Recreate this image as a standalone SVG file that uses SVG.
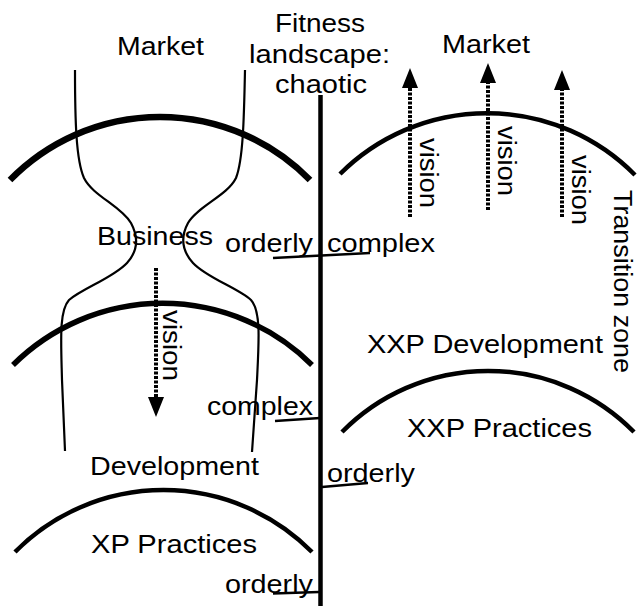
<svg xmlns="http://www.w3.org/2000/svg" width="637" height="607" viewBox="0 0 637 607">
<style>
  text { font-family: "Liberation Sans", Arial, sans-serif; font-size: 25px; fill: #000; }
  .arc { fill: none; stroke: #000; stroke-linecap: butt; }
  .thin { fill: none; stroke: #000; stroke-width: 2.2; }
  .tick { stroke: #000; stroke-width: 2.5; fill: none; }
  .vis { stroke: #000; stroke-width: 4; stroke-dasharray: 3 1.5; fill: none; }
</style>
<defs>
  <marker id="head" markerUnits="userSpaceOnUse" viewBox="0 0 20 16" refX="0" refY="8" markerWidth="20" markerHeight="16" orient="auto">
    <path d="M0,0 L20,8 L0,16 z" fill="#000"/>
  </marker>
</defs>
<rect width="637" height="607" fill="#fff"/>

<g id="axis">
  <line x1="320.5" y1="95" x2="320.5" y2="606" stroke="#000" stroke-width="4.5"/>
  <text x="275" y="32" textLength="90" lengthAdjust="spacingAndGlyphs">Fitness</text>
  <text x="249" y="63" textLength="141" lengthAdjust="spacingAndGlyphs">landscape:</text>
  <text x="275" y="93" textLength="92" lengthAdjust="spacingAndGlyphs">chaotic</text>
</g>

<g id="left-market">
  <path class="arc" stroke-width="6.5" d="M10,180 A210,210 0 0 1 310,180"/>
  <text x="117" y="55" textLength="87" lengthAdjust="spacingAndGlyphs">Market</text>
</g>

<g id="hourglass">
  <path class="thin" d="M75,70 C75,120 76,160 84,178 C93,196 121,206 131,223 C139,238 137,252 127,263 C113,278 83,288 69,300 C59,311 61,340 62,380 L65,451"/>
  <path class="thin" d="M245,70 C244,120 243,160 236,178 C227,196 198,206 188,223 C180,238 183,252 193,263 C207,278 238,288 251,300 C261,311 259,340 257,380 L252,452"/>
</g>

<g id="business">
  <path class="arc" stroke-width="5.5" d="M13,365 A212,212 0 0 1 312,365"/>
  <text x="97" y="245" textLength="116" lengthAdjust="spacingAndGlyphs">Business</text>
</g>

<g id="development">
  <path class="arc" stroke-width="4.5" d="M15,552 A209,209 0 0 1 312,552"/>
  <text x="90" y="475" textLength="169" lengthAdjust="spacingAndGlyphs">Development</text>
</g>

<g id="xp-practices">
  <text x="91" y="553" textLength="166" lengthAdjust="spacingAndGlyphs">XP Practices</text>
</g>

<g id="right-market">
  <path class="arc" stroke-width="4.5" d="M340,174 A208,208 0 0 1 635,175"/>
  <text x="442" y="53" textLength="88" lengthAdjust="spacingAndGlyphs">Market</text>
</g>

<g id="xxp-development">
  <text x="367" y="353" textLength="236" lengthAdjust="spacingAndGlyphs">XXP Development</text>
  <path class="arc" stroke-width="4.5" d="M342,432 A205,205 0 0 1 634,432"/>
</g>

<g id="xxp-practices">
  <text x="407" y="437" textLength="185" lengthAdjust="spacingAndGlyphs">XXP Practices</text>
</g>

<g id="transition-zone">
  <text transform="translate(614,190) rotate(90)" x="0" y="0" textLength="183" lengthAdjust="spacingAndGlyphs">Transition zone</text>
</g>

<g id="scale-labels">
  <text x="225" y="252" textLength="88" lengthAdjust="spacingAndGlyphs">orderly</text>
  <text x="327" y="252" textLength="108" lengthAdjust="spacingAndGlyphs">complex</text>
  <text x="207" y="415" textLength="106" lengthAdjust="spacingAndGlyphs">complex</text>
  <text x="327" y="482" textLength="88" lengthAdjust="spacingAndGlyphs">orderly</text>
  <text x="225" y="593" textLength="88" lengthAdjust="spacingAndGlyphs">orderly</text>
</g>

<g id="connectors">
  <line class="tick" x1="273" y1="258" x2="370" y2="253"/>
  <line class="tick" x1="275" y1="421" x2="320" y2="418"/>
  <line class="tick" x1="322" y1="487" x2="368" y2="483"/>
  <line class="tick" x1="273" y1="593.5" x2="319" y2="592"/>
  <line class="vis" x1="156" y1="268" x2="156" y2="397" marker-end="url(#head)"/>
  <line class="vis" x1="410" y1="217" x2="410" y2="88" marker-end="url(#head)"/>
  <line class="vis" x1="488" y1="210" x2="488" y2="83" marker-end="url(#head)"/>
  <line class="vis" x1="562" y1="217" x2="562" y2="90" marker-end="url(#head)"/>
  <text transform="translate(163,310) rotate(90)" x="0" y="0" textLength="71" lengthAdjust="spacingAndGlyphs">vision</text>
  <text transform="translate(420,138) rotate(90)" x="0" y="0" textLength="70" lengthAdjust="spacingAndGlyphs">vision</text>
  <text transform="translate(498,126) rotate(90)" x="0" y="0" textLength="70" lengthAdjust="spacingAndGlyphs">vision</text>
  <text transform="translate(572,155) rotate(90)" x="0" y="0" textLength="70" lengthAdjust="spacingAndGlyphs">vision</text>
</g>
</svg>
